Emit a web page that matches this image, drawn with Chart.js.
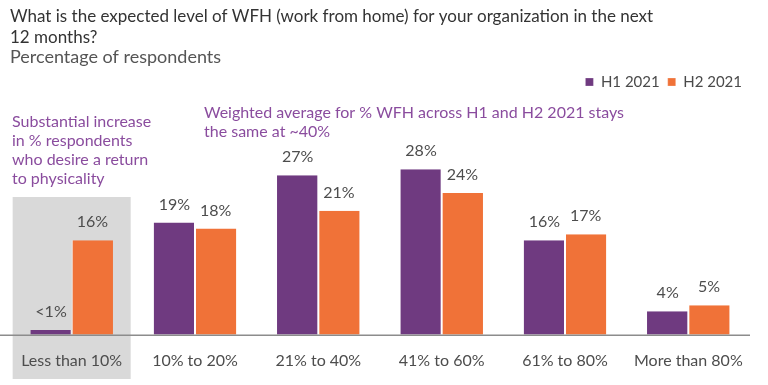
<!DOCTYPE html>
<html>
<head>
<meta charset="utf-8">
<script src="https://cdn.jsdelivr.net/npm/chart.js@4/dist/chart.umd.min.js"></script>
<style>
  html, body { margin: 0; padding: 0; background: #fff; }
  #wrap { position: relative; width: 768px; height: 385px; }
</style>
</head>
<body>
<div id="wrap"><canvas id="wfhChart" width="768" height="385"></canvas></div>
<script>
// data
const categories = ['Less than 10%', '10% to 20%', '21% to 40%', '41% to 60%', '61% to 80%', 'More than 80%'];
const h1Values = [0.8, 19, 27, 28, 16, 4];
const h2Values = [16, 18, 21, 24, 17, 5];
const h1Labels = ['<1%', '19%', '27%', '28%', '16%', '4%'];
const h2Labels = ['16%', '18%', '21%', '24%', '17%', '5%'];
const seriesNames = ['H1 2021', 'H2 2021'];

const PURPLE = '#6f3a80';
const ORANGE = '#f07238';
const NOTE = '#8a4c9e';
const FONT = 'Lato, "Open Sans", sans-serif';

// gray box behind the first category + baseline
const backdrop = {
    id: 'backdrop',
    beforeDraw(chart) {
        const ctx = chart.ctx;
        const x = chart.scales.x;
        const cx = x.getPixelForValue(0);
        ctx.save();
        ctx.fillStyle = '#d9d9d9';
        ctx.fillRect(cx - 59, 197, 118, 182);
        ctx.restore();
    },
    afterDatasetsDraw(chart) {
        const ctx = chart.ctx;
        const area = chart.chartArea;
        ctx.save();
        ctx.strokeStyle = '#8c8c8c';
        ctx.lineWidth = 1.5;
        ctx.beginPath();
        ctx.moveTo(0, area.bottom + 0.5);
        ctx.lineTo(area.right, area.bottom + 0.5);
        ctx.stroke();
        ctx.restore();
    }
};

// value labels over the bars and purple notes
const valueLabels = {
    id: 'valueLabels',
    afterDraw(chart) {
        const ctx = chart.ctx;
        const texts = [h1Labels, h2Labels];
        ctx.save();
        ctx.font = '16px ' + FONT;
        ctx.fillStyle = '#4d4d4d';
        ctx.textAlign = 'center';
        ctx.textBaseline = 'middle';
        chart.data.datasets.forEach((ds, i) => {
            chart.getDatasetMeta(i).data.forEach((bar, j) => {
                ctx.fillText(texts[i][j], bar.x, bar.y - 18);
            });
        });

        ctx.fillStyle = NOTE;
        ctx.textAlign = 'left';
        ctx.font = '16px ' + FONT;
        ['Substantial increase', 'in % respondents', 'who desire a return', 'to physicality']
            .forEach((t, k) => ctx.fillText(t, 12, 122 + k * 19));
        ['Weighted average for % WFH across H1 and H2 2021 stays', 'the same at ~40%']
            .forEach((t, k) => ctx.fillText(t, 204, 113 + k * 19));
        ctx.restore();
    }
};

const ctx = document.getElementById('wfhChart').getContext('2d');
new Chart(ctx, {
    type: 'bar',
    data: {
        labels: categories,
        datasets: [
            { label: seriesNames[0], data: h1Values, backgroundColor: PURPLE, borderColor: '#ffffff', borderWidth: { right: 1 } },
            { label: seriesNames[1], data: h2Values, backgroundColor: ORANGE, borderColor: '#ffffff', borderWidth: { left: 1 } }
        ]
    },
    options: {
        responsive: false,
        animation: false,
        layout: { padding: { left: 10, right: 18, top: 0, bottom: 7 } },
        datasets: { bar: { categoryPercentage: 0.67, barPercentage: 1 } },
        scales: {
            x: {
                grid: { display: false },
                border: { display: false },
                ticks: { font: { family: FONT, size: 16 }, color: '#4d4d4d', padding: 8 }
            },
            y: { display: false, min: 0, max: 39.8 }
        },
        plugins: {
            tooltip: { enabled: false },
            title: {
                display: true,
                align: 'start',
                text: ['What is the expected level of WFH (work from home) for your organization in the next', '12 months?'],
                color: '#333333',
                font: { family: FONT, size: 17, weight: 'normal', lineHeight: 1.25 },
                padding: { top: 6, bottom: 0 }
            },
            subtitle: {
                display: true,
                align: 'start',
                text: 'Percentage of respondents',
                color: '#555555',
                font: { family: FONT, size: 18, lineHeight: 1.0 },
                padding: { top: 0, bottom: 0 }
            },
            legend: {
                display: true,
                position: 'top',
                align: 'end',
                labels: {
                    boxWidth: 8,
                    boxHeight: 8,
                    padding: 8,
                    color: '#4a4a4a',
                    font: { family: FONT, size: 15 }
                }
            }
        }
    },
    plugins: [backdrop, valueLabels]
});
</script>
</body>
</html>
